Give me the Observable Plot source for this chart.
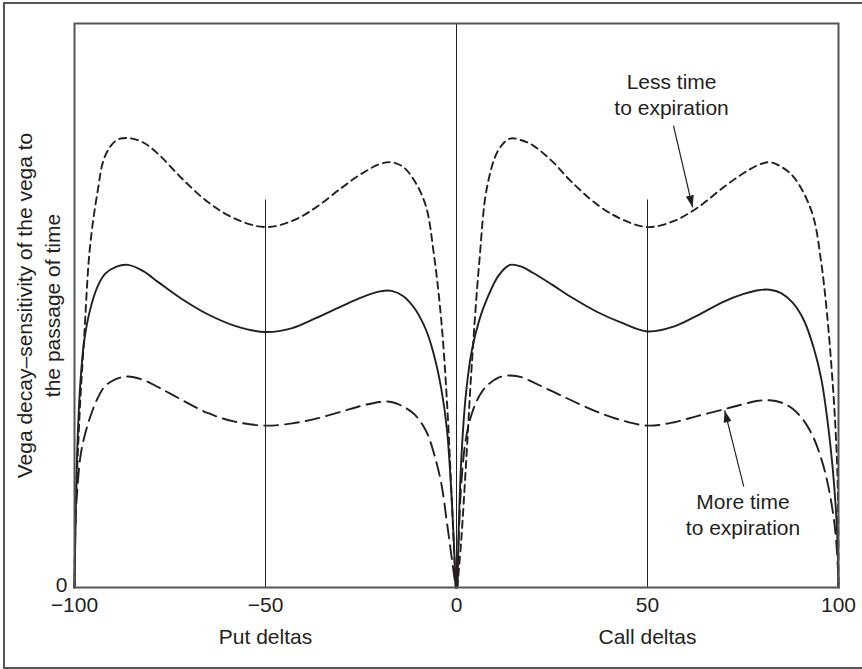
<!DOCTYPE html>
<html>
<head>
<meta charset="utf-8">
<script src="https://cdn.jsdelivr.net/npm/d3@7"></script>
<script src="https://cdn.jsdelivr.net/npm/@observablehq/plot@0.6"></script>
<style>
  html, body { margin: 0; padding: 0; background: #fff; overflow: hidden; }
  #wrap { position: relative; width: 862px; height: 669px; overflow: hidden; }
  #border { position: absolute; left: 3px; top: 2px; width: 870px; height: 667px;
            box-sizing: border-box; border: 2px solid #555; pointer-events: none; }
  svg { display: block; }
</style>
</head>
<body>
<div id="wrap"><div id="border"></div></div>
<script>
// Put side: delta from -100 to 0
const putDeltas   = [-100, -99.7, -99.3, -98.5, -97.5, -96, -94, -92, -89, -86, -82, -78, -72, -65, -58, -50, -43, -37, -30, -25, -20, -17, -14, -11, -8, -6, -4, -2.5, -1.2, -0.2];
const lessTimePut = [0, 15, 21, 33, 44, 60, 70, 76.5, 79.3, 79.7, 78.9, 76.8, 72.6, 68.3, 65.4, 63.9, 65.0, 67.3, 70.9, 73.3, 75.1, 75.4, 74.6, 72.1, 67.6, 59.5, 47.5, 33, 15, 0];
const midTimePut  = [0, 12, 24, 36, 43.5, 49, 53.3, 55.6, 56.9, 57.2, 56.1, 54.1, 51.2, 48.4, 46.4, 45.3, 46.0, 47.7, 49.9, 51.4, 52.5, 52.6, 51.7, 49.5, 45.7, 41.5, 35.3, 28, 15, 0];
const moreTimePut = [0, 12.4, 17, 23, 26.5, 30, 33.5, 35.7, 37, 37.4, 36.8, 35.5, 33.3, 30.9, 29.4, 28.7, 29.1, 29.9, 31.2, 32.2, 32.9, 32.9, 32.1, 30.7, 27.8, 24, 18.5, 11.5, 5, 0];

// Call side: delta from 0 to 100
const callDeltas   = [0.2, 1.2, 2.5, 4, 6, 8, 11, 14, 17, 20, 25, 30, 37, 43, 50, 57, 63, 70, 75, 79, 82, 85, 88, 91, 93.5, 95.5, 97, 98.5, 99.3, 99.8, 100];
const lessTimeCall = [0, 8, 22, 39.5, 58, 71, 77.6, 79.6, 79.3, 78.4, 75.6, 72.0, 67.8, 65.4, 63.9, 65, 67.3, 71, 73.4, 74.9, 75.4, 74.6, 73, 69.8, 65.5, 57.5, 48.5, 36, 27, 18, 0];
const midTimeCall  = [0, 22, 34.5, 42, 47.5, 51.2, 55.3, 57.2, 56.9, 55.8, 53.7, 51.5, 48.8, 47.0, 45.4, 46.3, 48.2, 50.7, 52.0, 52.7, 52.8, 52.2, 50.5, 47.3, 42.5, 37, 30.2, 21, 14, 7, 0];
const moreTimeCall = [0, 18, 26.5, 30.8, 34, 35.8, 37.2, 37.6, 37.3, 36.4, 34.8, 33.2, 31.1, 29.7, 28.7, 29.3, 30.4, 31.6, 32.5, 33.1, 33.2, 32.8, 31.7, 29.5, 26.5, 22.8, 19, 13.5, 9, 4, 0];

// Axis ticks and titles
const xTicks = [-100, -50, 0, 50, 100];
const yTicks = [0];
const xTitles = ["Put deltas", "Call deltas"];
const xTitlePos = [-50, 50];
const yTitle = "Vega decay\u2013sensitivity of the vega to\nthe passage of time";

// Vertical guides at -50, 0 and 50 deltas
const guideX = [-50, 0, 50];
const guideTop = [68.7, 100, 68.7];

// Annotations
const noteText = ["Less time\nto expiration", "More time\nto expiration"];
const noteX = [56.3, 75.0];
const noteY = [87.6, 13.1];
const arrowX1 = [56.8, 75.2];
const arrowY1 = [81.9, 17.9];
const arrowX2 = [61.8, 70.2];
const arrowY2 = [67.4, 31.4];

function curveRows(series, putVals, callVals) {
  return [
    ...putDeltas.map((d, i) => ({delta: d, value: putVals[i], side: "put", series})),
    ...callDeltas.map((d, i) => ({delta: d, value: callVals[i], side: "call", series}))
  ];
}
const lessRows = curveRows("less", lessTimePut, lessTimeCall);
const midRows  = curveRows("mid", midTimePut, midTimeCall);
const moreRows = curveRows("more", moreTimePut, moreTimeCall);

const guides = guideX.map((x, i) => ({x, top: guideTop[i]}));
const notes = noteText.map((t, i) => ({text: t, x: noteX[i], y: noteY[i]}));
const arrows = arrowX1.map((x, i) => ({x1: x, y1: arrowY1[i], x2: arrowX2[i], y2: arrowY2[i]}));
const titles = xTitles.map((t, i) => ({text: t, x: xTitlePos[i]}));

const ink = "#231f20";
const lineStyle = {x: "delta", y: "value", z: "side", stroke: ink, strokeWidth: 1.9, curve: "catmull-rom"};

const chart = Plot.plot({
  width: 862,
  height: 669,
  marginLeft: 74,
  marginRight: 24,
  marginTop: 23,
  marginBottom: 82,
  style: {fontFamily: "'Liberation Sans', Arial, Helvetica, sans-serif", fontSize: "21px", color: ink, background: "transparent"},
  x: {domain: [-100, 100]},
  y: {domain: [0, 100]},
  marks: [
    Plot.axisX({ticks: xTicks, tickSize: 0, tickPadding: 10, label: null,
                tickFormat: d => d < 0 ? "\u2212" + Math.abs(d) : String(d)}),
    Plot.axisY({ticks: yTicks, tickSize: 0, tickPadding: 7, label: null, dy: -2}),
    Plot.ruleX(guides, {x: "x", y1: 0, y2: "top", stroke: ink, strokeWidth: 1}),
    Plot.line(lessRows, {...lineStyle, strokeDasharray: "7,5"}),
    Plot.line(midRows, lineStyle),
    Plot.line(moreRows, {...lineStyle, strokeDasharray: "14,7"}),
    Plot.link(arrows, {x1: "x1", y1: "y1", x2: "x2", y2: "y2", stroke: ink, strokeWidth: 1.2, className: "pointer"}),
    Plot.text(notes, {x: "x", y: "y", text: "text", lineHeight: 1.25, fill: ink}),
    Plot.text(titles, {x: "x", text: "text", frameAnchor: "bottom", lineAnchor: "middle", dy: 50, fill: ink}),
    Plot.text([yTitle], {text: d => d, frameAnchor: "left", textAnchor: "middle", lineAnchor: "middle",
                         dx: -37, rotate: -90, lineHeight: 1.33, fill: ink}),
    Plot.frame({stroke: "#555", strokeWidth: 2})
  ]
});

// Filled arrowheads on the annotation pointers
const svg = d3.select(chart);
svg.append("defs").append("marker")
  .attr("id", "pointer-head")
  .attr("viewBox", "0 0 12 8")
  .attr("refX", 12).attr("refY", 4)
  .attr("markerUnits", "userSpaceOnUse")
  .attr("markerWidth", 12).attr("markerHeight", 8)
  .attr("orient", "auto")
  .append("path").attr("d", "M0,0L12,4L0,8Z").attr("fill", ink);
svg.selectAll(".pointer path").attr("marker-end", "url(#pointer-head)");

document.getElementById("wrap").prepend(chart);
</script>
</body>
</html>
